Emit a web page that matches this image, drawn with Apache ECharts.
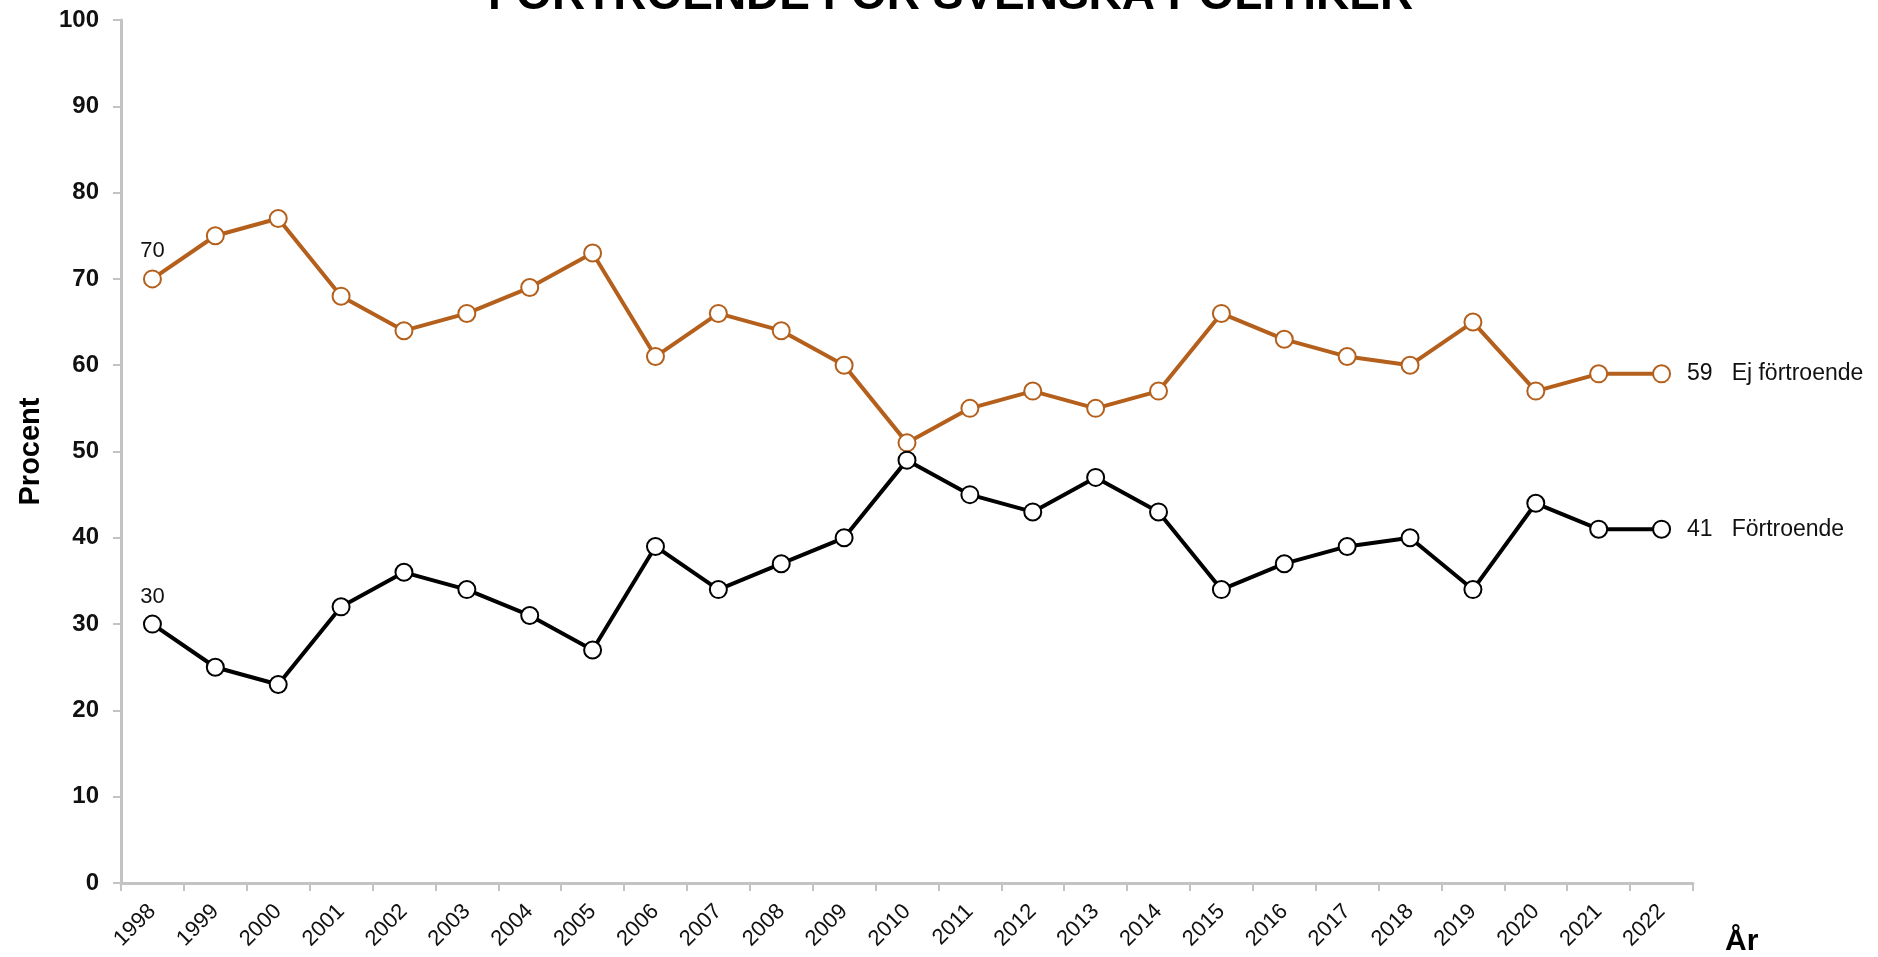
<!DOCTYPE html>
<html>
<head>
<meta charset="utf-8">
<script src="https://cdn.jsdelivr.net/npm/echarts@6/dist/echarts.min.js"></script>
<style>
  html, body { margin: 0; padding: 0; background: #fff; }
  #chart { width: 1878px; height: 957px; }
</style>
</head>
<body>
<div id="chart"></div>
<script>
// årtal och värden (procent)
var years = ['1998', '1999', '2000', '2001', '2002', '2003', '2004', '2005', '2006', '2007',
  '2008', '2009', '2010', '2011', '2012', '2013', '2014', '2015', '2016', '2017',
  '2018', '2019', '2020', '2021', '2022']
var ejFortroende = [70, 75, 77, 68, 64, 66, 69, 73, 61, 66, 64, 60, 51, 55, 57, 55, 57, 66, 63, 61, 60, 65, 57, 59, 59]
var fortroende = [30, 25, 23, 32, 36, 34, 31, 27, 39, 34, 37, 40, 49, 45, 43, 47, 43, 34, 37, 39, 40, 34, 44, 41, 41]

var FONT = 'Liberation Sans, Arial, sans-serif'
var ORANGE = '#b4601c'

var myChart = echarts.init(document.getElementById('chart'))

// första punkten får etikett ovanför, sista får värde + serienamn till höger
function buildData(vals, name) {
  return vals.map(function (v, i) {
    if (i === 0) {
      return {
        value: v,
        label: {
          show: true,
          position: 'top',
          distance: 7,
          formatter: '{c}',
          color: '#111',
          fontSize: 22,
          fontFamily: FONT,
        },
      }
    }
    if (i === vals.length - 1) {
      return {
        value: v,
        label: {
          show: true,
          position: 'right',
          distance: 16,
          formatter: '{v|' + v + '}{n|' + name + '}',
          rich: {
            v: { color: '#111', fontSize: 23, fontFamily: FONT },
            n: { color: '#111', fontSize: 23, fontFamily: FONT, padding: [0, 0, 0, 19] },
          },
        },
      }
    }
    return v
  })
}

function lineSeries(name, vals, color) {
  return {
    name: name,
    type: 'line',
    data: buildData(vals, name),
    symbol: 'circle',
    symbolSize: 17,
    lineStyle: { color: color, width: 4 },
    itemStyle: { color: '#fff', borderColor: color, borderWidth: 2 },
    emphasis: { disabled: true },
    z: 3,
  }
}

var option = {
  animation: false,
  backgroundColor: '#fff',
  title: {
    text: 'FÖRTROENDE FÖR SVENSKA POLITIKER',
    left: 483,
    top: -32,
    textStyle: {
      color: '#000',
      fontSize: 46,
      fontWeight: 'bold',
      fontFamily: FONT,
    },
  },
  grid: {
    left: 121,
    right: 185,
    top: 20,
    bottom: 74,
    containLabel: false,
    outerBoundsMode: 'none',
  },
  xAxis: {
    type: 'category',
    data: years,
    boundaryGap: true,
    name: 'År',
    nameLocation: 'end',
    nameGap: 32,
    nameTextStyle: {
      color: '#000',
      fontSize: 30,
      fontWeight: 'bold',
      fontFamily: FONT,
      verticalAlign: 'top',
      padding: [44, 0, 0, 0],
    },
    axisLine: { lineStyle: { color: '#c3c3c3', width: 3 } },
    axisTick: { show: true, length: 8, lineStyle: { color: '#c3c3c3', width: 2 } },
    axisLabel: {
      rotate: 45,
      margin: 25,
      color: '#111',
      fontSize: 22,
      fontFamily: FONT,
      interval: 0,
    },
    splitLine: { show: false },
  },
  yAxis: {
    type: 'value',
    min: 0,
    max: 100,
    interval: 10,
    name: 'Procent',
    nameLocation: 'middle',
    nameRotate: 90,
    nameGap: 76,
    nameTextStyle: {
      color: '#000',
      fontSize: 29,
      fontWeight: 'bold',
      fontFamily: FONT,
    },
    axisLine: { show: true, lineStyle: { color: '#c3c3c3', width: 3 } },
    axisTick: { show: true, length: 8, lineStyle: { color: '#c3c3c3', width: 2 } },
    axisLabel: {
      margin: 22,
      color: '#111',
      fontSize: 24,
      fontWeight: 'bold',
      fontFamily: FONT,
    },
    splitLine: { show: false },
  },
  series: [
    lineSeries('Ej förtroende', ejFortroende, ORANGE),
    lineSeries('Förtroende', fortroende, '#000'),
  ],
}

myChart.setOption(option)
</script>
</body>
</html>
